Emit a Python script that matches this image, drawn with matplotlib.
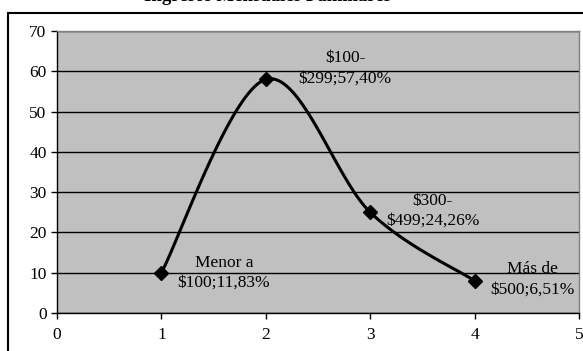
import numpy as np
import matplotlib.pyplot as plt
from matplotlib.patches import Rectangle

# data
x_pos = [1, 2, 3, 4]
values = [10, 58, 25, 8]
point_labels = ["Menor a\n$100;11,83%", "$100-\n$299;57,40%",
                "$300-\n$499;24,26%", "Más de\n$500;6,51%"]
label_offsets = [(45, 0), (57, 8), (45, 1), (42, 1)]
title = "Ingresos Mensuales Familiares"

plt.rcParams['font.family'] = ['Liberation Serif', 'DejaVu Serif']


def smooth_curve(xs, ys, n=40):
    # excel style smoothed line (cardinal bezier through the points)
    pts = np.column_stack([xs, ys]).astype(float)
    out = []
    for i in range(len(pts) - 1):
        p0 = pts[i - 1] if i > 0 else pts[i]
        p1 = pts[i]
        p2 = pts[i + 1]
        p3 = pts[i + 2] if i + 2 < len(pts) else pts[i + 1]
        c1 = p1 + (p2 - p0) / 6
        c2 = p2 - (p3 - p1) / 6
        t = np.linspace(0, 1, n)[:, None]
        seg = ((1 - t) ** 3) * p1 + 3 * ((1 - t) ** 2) * t * c1 + 3 * (1 - t) * t ** 2 * c2 + t ** 3 * p2
        out.append(seg)
    out = np.vstack(out)
    return out[:, 0], out[:, 1]


fig = plt.figure(figsize=(5.83, 3.51), dpi=100)
ax = fig.add_axes([57 / 583, 1 - 313 / 351, 522 / 583, 282 / 351])

# outer chart frame
fig.patches.append(Rectangle((8 / 583, -0.05), 1.0, 1 - 13 / 351 + 0.05,
                             transform=fig.transFigure, fill=False,
                             edgecolor='black', linewidth=1.5))

# title, mostly clipped at the top edge like the original
fig.text(268 / 583, 1 - 1 / 351, title, ha='center', va='baseline',
         fontsize=13.5, fontweight='bold')

ax.set_facecolor('#C0C0C0')
ax.set_xlim(0, 5)
ax.set_ylim(0, 70)
ax.set_xticks(range(0, 6))
ax.set_yticks(range(0, 71, 10))
ax.yaxis.grid(True, color='black', linewidth=1)
ax.set_axisbelow(True)
ax.tick_params(axis='both', direction='out', length=4, width=1,
               labelsize=12.5, colors='black')
ax.tick_params(axis='x', pad=6)
for side in ['left', 'bottom']:
    ax.spines[side].set_color('black')
    ax.spines[side].set_linewidth(1)
for side in ['top', 'right']:
    ax.spines[side].set_color('#808080')
    ax.spines[side].set_linewidth(1)

sx, sy = smooth_curve(x_pos, values)
ax.plot(sx, sy, color='black', linewidth=2.2, solid_capstyle='round', zorder=3)
ax.plot(x_pos, values, linestyle='none', marker='D', markersize=7,
        color='black', zorder=4)

for x, y, lab, off in zip(x_pos, values, point_labels, label_offsets):
    ax.annotate(lab, (x, y), xytext=off, textcoords='offset points',
                ha='center', va='center', fontsize=12.5, linespacing=1.35)

fig.savefig("out.png", dpi=100)
